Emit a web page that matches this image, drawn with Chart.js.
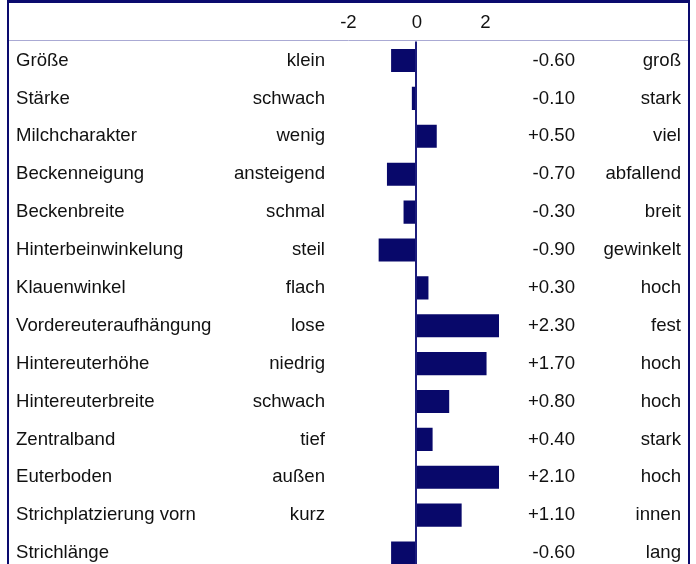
<!DOCTYPE html>
<html>
<head>
<meta charset="utf-8">
<script src="https://cdn.jsdelivr.net/npm/chart.js@4.4.1/dist/chart.umd.min.js"></script>
<style>
  html, body { margin: 0; padding: 0; overflow: hidden; background: #fff; }
</style>
</head>
<body>
<canvas id="traitChart" width="696" height="572"></canvas>
<script>
// Linear type traits: name, low end, high end, score
const traits = [
  "Größe", "Stärke", "Milchcharakter", "Beckenneigung", "Beckenbreite",
  "Hinterbeinwinkelung", "Klauenwinkel", "Vordereuteraufhängung", "Hintereuterhöhe",
  "Hintereuterbreite", "Zentralband", "Euterboden", "Strichplatzierung vorn", "Strichlänge"
];
const lowLabels = [
  "klein", "schwach", "wenig", "ansteigend", "schmal", "steil", "flach",
  "lose", "niedrig", "schwach", "tief", "außen", "kurz", ""
];
const highLabels = [
  "groß", "stark", "viel", "abfallend", "breit", "gewinkelt", "hoch",
  "fest", "hoch", "hoch", "stark", "hoch", "innen", "lang"
];
const scores = [-0.6, -0.1, 0.5, -0.7, -0.3, -0.9, 0.3, 2.3, 1.7, 0.8, 0.4, 2.1, 1.1, -0.6];
const headerTicks = [-2, 0, 2];

const navy = '#08086a';
const textFont = { family: "'Liberation Sans', Arial, sans-serif", size: 18.6 };
const textColor = '#111';

function fmtScore(v) {
  return (v > 0 ? '+' : '') + v.toFixed(2);
}

// outer frame and the header separator line
const framePlugin = {
  id: 'frame',
  afterDraw(chart) {
    const ctx = chart.ctx;
    const lineY = Math.round(chart.chartArea.top) - 1.5;
    ctx.save();
    ctx.fillStyle = '#0a0a6e';
    ctx.fillRect(7, 0, 683, 3);
    ctx.fillRect(7, 0, 2, chart.height);
    ctx.fillRect(688, 0, 2, chart.height);
    ctx.strokeStyle = '#aaaad4';
    ctx.lineWidth = 1;
    ctx.beginPath();
    ctx.moveTo(9, lineY);
    ctx.lineTo(688, lineY);
    ctx.stroke();
    ctx.restore();
  }
};

function labelAxis(position, weight, labels, align, width, padding) {
  return {
    type: 'category',
    position: position,
    weight: weight,
    labels: labels,
    offset: true,
    grid: { display: false, drawTicks: false },
    border: { display: false },
    ticks: { autoSkip: false, crossAlign: align, padding: padding, font: textFont, color: textColor },
    afterFit: s => {
      s.width = width;
      s.paddingTop = 0;
      s.paddingBottom = 0;
    }
  };
}

new Chart(document.getElementById('traitChart'), {
  type: 'bar',
  data: {
    labels: traits,
    datasets: [{
      data: scores,
      backgroundColor: navy,
      borderWidth: 0,
      barPercentage: 0.61,
      categoryPercentage: 1,
      xAxisID: 'x',
      yAxisID: 'y'
    }]
  },
  plugins: [framePlugin],
  options: {
    indexAxis: 'y',
    responsive: false,
    animation: false,
    layout: { padding: { left: 16, right: 15, top: 3, bottom: 0 } },
    plugins: { legend: { display: false }, tooltip: { enabled: false } },
    scales: {
      x: {
        type: 'linear',
        position: 'bottom',
        min: -2,
        max: 2,
        ticks: { display: false },
        border: { display: false },
        grid: {
          drawTicks: false,
          lineWidth: 2,
          color: c => (c.tick && c.tick.value === 0 ? '#1c1c7c' : 'rgba(0,0,0,0)')
        },
        afterFit: s => { s.height = 0; }
      },
      x2: {
        type: 'linear',
        position: 'top',
        min: -2.45,
        max: 2.4,
        grid: { display: false, drawTicks: false },
        border: { display: false },
        afterBuildTicks: s => { s.ticks = headerTicks.map(v => ({ value: v })); },
        ticks: { padding: 8, font: textFont, color: textColor },
        afterFit: s => { s.height = 38.6; }
      },
      y: labelAxis('left', 2, traits, 'far', 200, 0),
      yLow: labelAxis('left', 1, lowLabels, 'near', 117, 8),
      yVal: labelAxis('right', 1, scores.map(fmtScore), 'far', 76, 0),
      yHigh: labelAxis('right', 2, highLabels, 'far', 106, 0)
    }
  }
});
</script>
</body>
</html>
